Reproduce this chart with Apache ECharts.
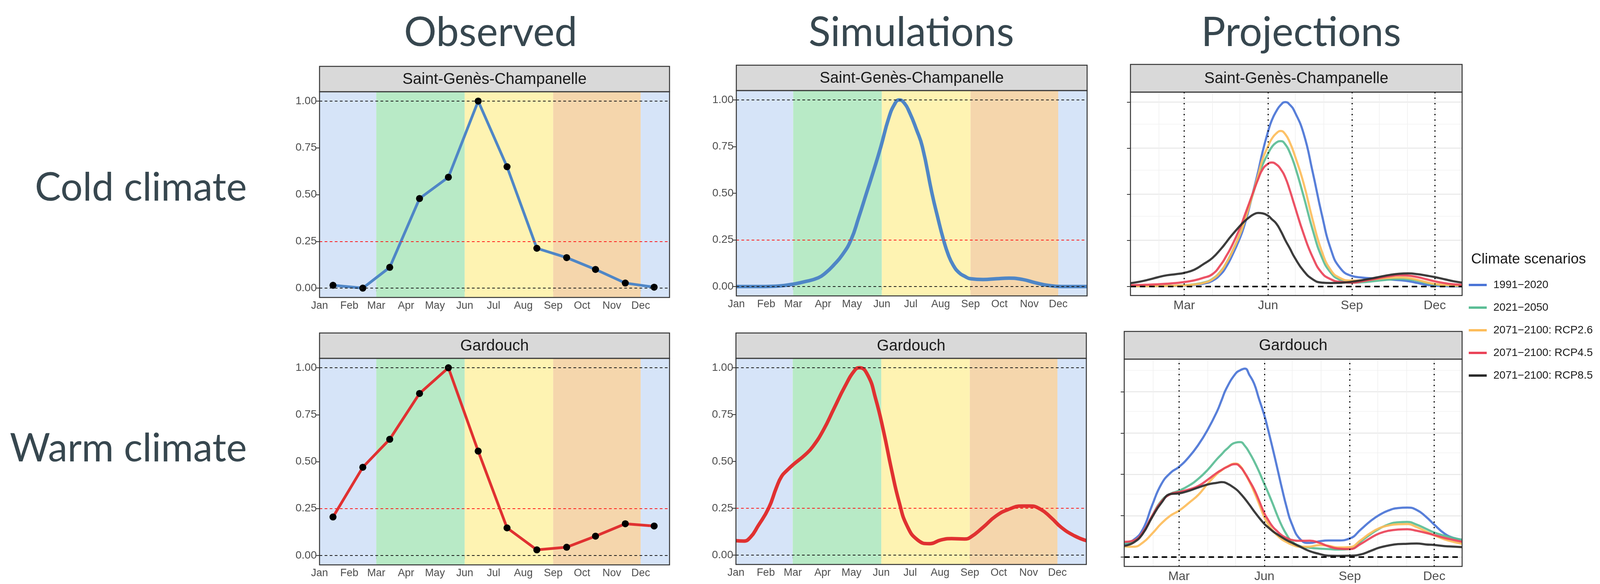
<!DOCTYPE html>
<html><head><meta charset="utf-8">
<script src="https://cdn.jsdelivr.net/npm/echarts@6/dist/echarts.min.js"></script>
<style>html,body{margin:0;padding:0;background:#fff}#c{width:4119px;height:1496px}</style>
</head><body><div id="c"></div>
<script>
// ---------- data ----------
const monthNames = ['Jan','Feb','Mar','Apr','May','Jun','Jul','Aug','Sep','Oct','Nov','Dec'];
const monthStarts = [0,31,59,90,120,151,181,212,243,273,304,334];
const projTickDays = [59,151,243,334];
const projTickNames = ['Mar','Jun','Sep','Dec'];
const projMinorDays = [31,90,120,181,212,273,304];
const yTicks = [0,0.25,0.5,0.75,1];
const yMinor = [0.125,0.375,0.625,0.875,1.125];
const seasonBreaks = [0,59,151,243,334,364];
const seasonColors = ['#d6e4f8','#b8eac6','#fef3b2','#f5d6ac','#d6e4f8'];

const obsDays = [14,45,73,104,134,165,195,226,257,287,318,348];
const obsCold = [0.015,0.0,0.111,0.479,0.593,1.0,0.649,0.213,0.163,0.10,0.027,0.005];
const obsWarm = [0.205,0.470,0.619,0.863,1.0,0.556,0.147,0.030,0.044,0.103,0.169,0.157];

const simColdDays = [0,20,40,50,59,70,85,93,101,110,119,127,135,143,150,158,164,169,174,180,187,193,203,209,215,220,225,231,237,243,256,270,283,297,310,324,338,350,364];
const simCold = [0,0,0.002,0.006,0.013,0.025,0.047,0.075,0.115,0.17,0.25,0.37,0.5,0.63,0.75,0.9,0.975,1.0,0.985,0.93,0.84,0.75,0.5,0.37,0.25,0.17,0.115,0.075,0.055,0.042,0.038,0.042,0.045,0.038,0.021,0.006,0,0,0];

const simWarmDays = [0,8,15,23,34,42,47.5,53,59.5,72,80,91,102,113,123.5,128.4,137,145,153.4,161.6,169.7,177.8,188.7,200.9,213,224,237.6,243.5,256.6,270.2,283.7,297.3,305.5,316.3,327.2,338,351.6,364];
const simWarm = [0.077,0.075,0.095,0.156,0.251,0.36,0.421,0.452,0.483,0.536,0.58,0.669,0.784,0.898,0.987,1.0,0.96,0.837,0.66,0.457,0.28,0.156,0.081,0.061,0.081,0.088,0.086,0.095,0.148,0.209,0.245,0.262,0.262,0.245,0.201,0.148,0.103,0.077];

const scenarios = ['1991\u22122020','2021\u22122050','2071\u22122100: RCP2.6','2071\u22122100: RCP4.5','2071\u22122100: RCP8.5'];
const scenarioColors = ['#4a74d6','#5bbd95','#fdbd5b','#ea4358','#2b2b2b'];
const projDays = [0,10,20,30,40,50,59,70,80,90,100,105,110,120,125,130,135,140,145,151,155,160,165,170,175,180,190,200,210,220,230,243,255,265,275,285,295,305,315,325,334,345,355,364];

const projCold1991 = [0.001,0.001,0.001,0.002,0.002,0.003,0.004,0.008,0.014,0.03,0.07,0.105,0.15,0.26,0.33,0.42,0.52,0.62,0.73,0.84,0.90,0.95,0.985,1.0,0.985,0.95,0.83,0.62,0.39,0.20,0.10,0.056,0.047,0.043,0.040,0.037,0.033,0.028,0.018,0.008,0.003,0.001,0,0];
const projCold2021 = [0.001,0.001,0.001,0.002,0.003,0.004,0.006,0.011,0.02,0.04,0.087,0.125,0.172,0.28,0.35,0.43,0.51,0.59,0.66,0.72,0.755,0.78,0.788,0.77,0.725,0.66,0.49,0.306,0.158,0.073,0.035,0.02,0.022,0.027,0.032,0.037,0.04,0.038,0.03,0.018,0.01,0.005,0.003,0.002];
const projColdRcp26 = [0.001,0.001,0.001,0.002,0.002,0.004,0.005,0.010,0.018,0.038,0.085,0.125,0.17,0.28,0.35,0.43,0.515,0.60,0.69,0.76,0.80,0.83,0.843,0.825,0.78,0.715,0.56,0.36,0.19,0.087,0.045,0.031,0.033,0.037,0.042,0.046,0.048,0.045,0.035,0.022,0.013,0.007,0.004,0.003];
const projColdRcp45 = [0.006,0.007,0.009,0.011,0.014,0.018,0.023,0.032,0.046,0.066,0.123,0.163,0.207,0.313,0.38,0.447,0.515,0.58,0.635,0.665,0.672,0.662,0.635,0.59,0.52,0.44,0.285,0.158,0.073,0.038,0.024,0.02,0.028,0.037,0.047,0.055,0.06,0.058,0.05,0.038,0.027,0.017,0.011,0.008];
const projColdRcp85 = [0.017,0.025,0.036,0.049,0.06,0.066,0.073,0.09,0.12,0.154,0.207,0.238,0.27,0.327,0.352,0.373,0.39,0.398,0.396,0.383,0.365,0.341,0.30,0.25,0.205,0.158,0.084,0.038,0.02,0.018,0.019,0.025,0.034,0.043,0.053,0.062,0.068,0.07,0.066,0.058,0.05,0.038,0.027,0.02];

const projWarm1991 = [0.080,0.103,0.167,0.312,0.441,0.510,0.545,0.607,0.680,0.771,0.881,0.95,1.019,1.11,1.13,1.14,1.10,1.048,0.96,0.856,0.77,0.655,0.535,0.413,0.30,0.208,0.105,0.085,0.095,0.100,0.100,0.112,0.167,0.216,0.255,0.282,0.296,0.299,0.285,0.244,0.196,0.142,0.115,0.104];
const projWarm2021 = [0.084,0.098,0.144,0.248,0.340,0.383,0.401,0.433,0.474,0.528,0.593,0.622,0.651,0.692,0.695,0.672,0.63,0.579,0.52,0.441,0.39,0.322,0.25,0.186,0.135,0.097,0.065,0.056,0.051,0.048,0.045,0.048,0.095,0.136,0.172,0.198,0.210,0.212,0.196,0.171,0.148,0.129,0.115,0.104];
const projWarmRcp26 = [0.064,0.062,0.087,0.141,0.203,0.251,0.280,0.329,0.377,0.444,0.503,0.525,0.544,0.565,0.55,0.505,0.455,0.393,0.325,0.240,0.20,0.159,0.13,0.106,0.09,0.076,0.062,0.063,0.072,0.068,0.058,0.060,0.103,0.144,0.175,0.191,0.198,0.199,0.181,0.155,0.131,0.107,0.091,0.080];
const projWarmRcp45 = [0.092,0.100,0.149,0.248,0.335,0.381,0.393,0.409,0.430,0.468,0.510,0.527,0.543,0.562,0.545,0.508,0.46,0.409,0.345,0.264,0.225,0.183,0.155,0.130,0.115,0.104,0.098,0.099,0.086,0.065,0.051,0.048,0.080,0.114,0.143,0.159,0.166,0.168,0.159,0.146,0.133,0.116,0.103,0.092];
const projWarmRcp85 = [0.068,0.087,0.141,0.240,0.327,0.381,0.385,0.401,0.421,0.439,0.449,0.453,0.447,0.412,0.385,0.352,0.315,0.276,0.24,0.200,0.18,0.156,0.137,0.119,0.102,0.088,0.061,0.035,0.019,0.008,0.007,0.008,0.016,0.036,0.057,0.070,0.078,0.080,0.082,0.076,0.073,0.066,0.063,0.060];

const projCold = [projCold1991, projCold2021, projColdRcp26, projColdRcp45, projColdRcp85];
const projWarm = [projWarm1991, projWarm2021, projWarmRcp26, projWarmRcp45, projWarmRcp85];

const colHeads = ['Observed','Simulations','Projections'];
const rowHeads = ['Cold climate','Warm climate'];
const sites = ['Saint-Gen\u00e8s-Champanelle','Gardouch'];

// ---------- layout ----------
const panels = [
  {g:{left:818, top:235, width:896, height:527}, strip:[170,235], kind:'obs', y:[-0.05,1.05], site:0},
  {g:{left:1885,top:232, width:898, height:526}, strip:[167,232], kind:'sim', y:[-0.05,1.05], site:0},
  {g:{left:2894,top:236, width:849, height:521}, strip:[165,236], kind:'proj',y:[-0.05,1.054], site:0},
  {g:{left:818, top:918, width:896, height:529}, strip:[853,918], kind:'obs', y:[-0.05,1.05], site:1},
  {g:{left:1884,top:918, width:897, height:528}, strip:[853,918], kind:'sim', y:[-0.05,1.05], site:1},
  {g:{left:2878,top:920, width:865, height:531}, strip:[849,920], kind:'proj',y:[-0.057,1.197], site:1}
];
const FONT = '"Liberation Sans", Arial, sans-serif';
const HEAD = 'Lato';
const headColor = '#37474f';

const grids = panels.map(p => Object.assign({show:false}, p.g));
const xAxes = panels.map((p,i) => {
  const proj = p.kind === 'proj';
  const vals = proj ? projTickDays : monthStarts;
  const names = proj ? projTickNames : monthNames;
  return {
    type:'value', gridIndex:i, min:0, max:364,
    axisLine:{show:false},
    splitLine:{show:false},
    axisTick:{show:true, customValues: vals, length: 9, lineStyle:{color:'#333', width:2}},
    axisLabel:{show:true, customValues: vals, formatter: v => names[vals.indexOf(v)],
      fontSize: proj ? 32 : 27, color:'#4d4d4d', fontFamily: FONT, margin: proj ? 10 : 8, hideOverlap:false}
  };
});
const yAxes = panels.map((p,i) => ({
  type:'value', gridIndex:i, min:p.y[0], max:p.y[1],
  axisLine:{show:false}, splitLine:{show:false},
  axisTick:{show:true, customValues: yTicks, length: 9, lineStyle:{color:'#333', width:2}},
  axisLabel:{show: p.kind !== 'proj', customValues: yTicks, formatter: v => v.toFixed(2),
    fontSize: 28, color:'#4d4d4d', fontFamily: FONT, margin: 7}
}));

const series = [];
const noLabel = {show:false};
panels.forEach((p,i) => {
  if (p.kind !== 'proj') {
    series.push({type:'line', xAxisIndex:i, yAxisIndex:i, data:[], silent:true,
      markArea:{silent:true, z:1, label:noLabel,
        data: seasonColors.map((c,k) => [{xAxis: seasonBreaks[k], itemStyle:{color:c}}, {xAxis: seasonBreaks[k+1]}])}
    });
    series.push({type:'line', xAxisIndex:i, yAxisIndex:i, data:[], silent:true, z:5,
      markLine:{silent:true, z:5, symbol:'none', label:noLabel,
        data:[
          {yAxis:1, lineStyle:{color:'#1a1a1a', width:2.2, type:[7,6]}},
          {yAxis:0, lineStyle:{color:'#1a1a1a', width:2.2, type:[7,6]}},
          {yAxis:0.25, lineStyle:{color:'#ff1a1a', width:2.2, type:[7,6]}}
        ]}
    });
    const cold = p.site === 0;
    const col = cold ? '#4f86c6' : '#e03131';
    if (p.kind === 'obs') {
      const vals = cold ? obsCold : obsWarm;
      series.push({type:'line', xAxisIndex:i, yAxisIndex:i, z:4,
        data: obsDays.map((d,k) => [d, vals[k]]),
        symbol:'circle', symbolSize:18, showSymbol:true,
        lineStyle:{color:col, width:7}, itemStyle:{color:'#000'}});
    } else {
      const ds = cold ? simColdDays : simWarmDays;
      const vals = cold ? simCold : simWarm;
      series.push({type:'line', xAxisIndex:i, yAxisIndex:i, z:4,
        data: ds.map((d,k) => [d, vals[k]]), smooth:0.5, showSymbol:false,
        lineStyle:{color:col, width:9}, itemStyle:{color:col}});
    }
  } else {
    const lines = [];
    yTicks.forEach(v => lines.push({yAxis:v, lineStyle:{color:'#ebebeb', width:3, type:'solid'}}));
    yMinor.filter(v => v < p.y[1]).forEach(v => lines.push({yAxis:v, lineStyle:{color:'#f2f2f2', width:1.6, type:'solid'}}));
    projTickDays.forEach(v => lines.push({xAxis:v, lineStyle:{color:'#ebebeb', width:3, type:'solid'}}));
    projMinorDays.forEach(v => lines.push({xAxis:v, lineStyle:{color:'#f0f0f0', width:1.6, type:'solid'}}));
    series.push({type:'line', xAxisIndex:i, yAxisIndex:i, data:[], silent:true,
      markLine:{silent:true, z:1, symbol:'none', label:noLabel, data: lines}});
    const sets = p.site === 0 ? projCold : projWarm;
    sets.forEach((vals,s) => {
      series.push({type:'line', name: scenarios[s], xAxisIndex:i, yAxisIndex:i, z:4,
        data: projDays.map((d,k) => [d, vals[k]]), smooth:0.5, showSymbol:false,
        lineStyle:{color: scenarioColors[s], width:5.5, opacity:0.92}, itemStyle:{color: scenarioColors[s]}});
    });
    series.push({type:'line', xAxisIndex:i, yAxisIndex:i, data:[], silent:true, z:6,
      markLine:{silent:true, z:6, symbol:'none', label:noLabel,
        data: projTickDays.map(v => ({xAxis:v, lineStyle:{color:'#000', width:3, type:[3,11]}}))
          .concat([{yAxis:0, lineStyle:{color:'#000', width:4, type:[14,10]}}])}
    });
  }
});

// ---------- graphics ----------
const elements = [];
function txt(t, x, y, size, family, fill, align) {
  return {type:'text', z:101, x:x, y:y,
    style:{text:t, fill:fill, font: size + 'px ' + family,
      align:align, verticalAlign:'middle', textAlign:align, textVerticalAlign:'middle'}};
}
panels.forEach(p => {
  const g = p.g;
  elements.push({type:'rect', z:100, shape:{x:g.left, y:p.strip[0], width:g.width, height:p.strip[1]-p.strip[0]},
    style:{fill:'#d9d9d9', stroke:'#333', lineWidth:2.5}});
  elements.push(txt(sites[p.site], g.left + g.width/2, (p.strip[0]+p.strip[1])/2 + 1, 40, FONT, '#1a1a1a', 'center'));
  elements.push({type:'rect', z:100, shape:{x:g.left, y:g.top, width:g.width, height:g.height},
    style:{fill:null, stroke:'#333', lineWidth:2.5}});
});
const headX = [1256, 2333, 3331];
colHeads.forEach((t,k) => elements.push(txt(t, headX[k], 84, 104, HEAD, headColor, 'center')));
const rowY = [482, 1150];
rowHeads.forEach((t,k) => elements.push(txt(t, 632, rowY[k], 100, HEAD, headColor, 'right')));
elements.push(txt('Climate scenarios', 3766, 665, 37, FONT, '#1a1a1a', 'left'));

const chart = echarts.init(document.getElementById('c'), null, {width:4119, height:1496});
chart.setOption({
  animation:false,
  backgroundColor:'#ffffff',
  textStyle:{fontFamily:FONT},
  grid: grids,
  xAxis: xAxes,
  yAxis: yAxes,
  legend:{
    data: scenarios, orient:'vertical', left:3760, top:712, padding:0, icon:'rect',
    itemWidth:46, itemHeight:6, itemGap:22, selectedMode:false,
    textStyle:{fontSize:28, color:'#1a1a1a', fontFamily:FONT, lineHeight:36, padding:[0,0,0,12]}
  },
  graphic:{elements: elements},
  series: series
});
</script></body></html>
